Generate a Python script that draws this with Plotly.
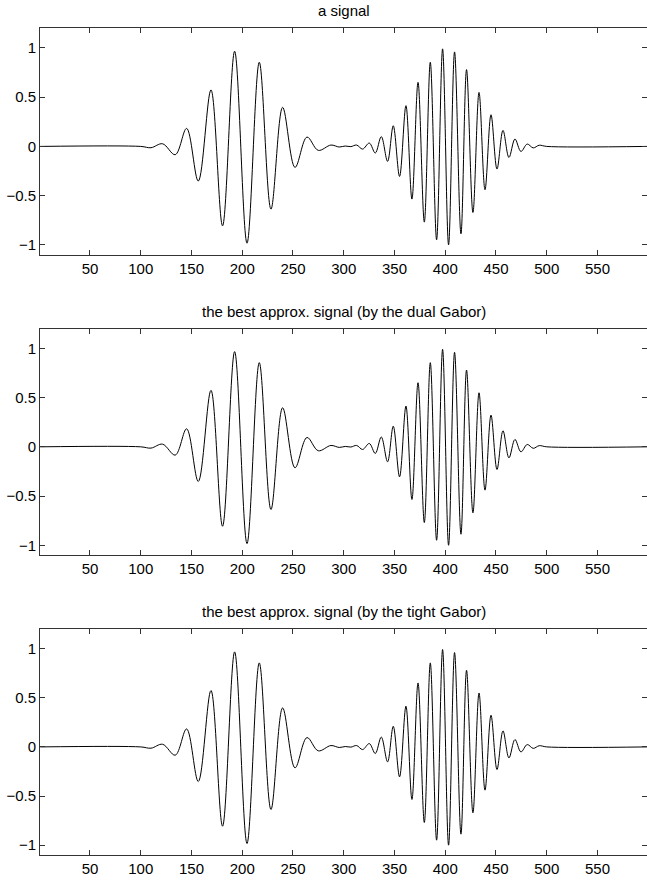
import plotly.graph_objects as go

# Extrema of the signal (sample index, amplitude)
sample_x = [1, 100, 110.1, 121.5, 134.0, 145.2, 156.7, 169.2, 180.6, 192.5, 204.7,
            216.8, 228.3, 239.8, 252.0, 263.8, 274.9, 287.4, 295.6, 301.5, 307.0,
            312.7, 318.6, 325.2, 331.1, 337.0, 343.2, 348.8, 355.0, 361.3, 367.2,
            373.2, 379.4, 385.3, 391.5, 397.4, 403.3, 409.2, 415.5, 421.0, 427.3,
            433.3, 439.2, 445.1, 451.0, 456.9, 462.8, 468.7, 474.6, 480.8, 486.7,
            492.6, 500, 599]
signal_y = [0, 0, -0.013, 0.027, -0.084, 0.183, -0.352, 0.574, -0.807, 0.967, -0.983,
            0.855, -0.637, 0.397, -0.213, 0.095, -0.04, 0.014, -0.006, 0.004, -0.002,
            0.014, -0.027, 0.034, -0.067, 0.10, -0.152, 0.21, -0.305, 0.414, -0.535,
            0.651, -0.769, 0.855, -0.949, 0.991, -1.0, 0.96, -0.888, 0.78, -0.671,
            0.549, -0.44, 0.322, -0.23, 0.163, -0.112, 0.075, -0.051, 0.024, -0.015,
            0.012, 0, 0]
# the two approximations are visually identical to the signal
dual_y = list(signal_y)
tight_y = list(signal_y)

titles = ["a signal",
          "the best approx. signal (by the dual Gabor)",
          "the best approx. signal (by the tight Gabor)"]
x_ticks = [50, 100, 150, 200, 250, 300, 350, 400, 450, 500, 550]
y_ticks = [-1, -0.5, 0, 0.5, 1]

W, H = 647, 882
mt, mb = 28, 27
plot_h = H - mt - mb
panel_h = 226.4
panel_tops = [28.3, 328.7, 629.0]

FONT = "Liberation Sans, Arial, Helvetica, sans-serif"
fig = go.Figure()
series = [signal_y, dual_y, tight_y]
annotations = []
layout = {}
for i, ys in enumerate(series):
    n = "" if i == 0 else str(i + 1)
    fig.add_trace(go.Scatter(x=sample_x, y=ys, mode="lines",
                             line=dict(color="black", width=1, shape="spline", smoothing=1),
                             xaxis="x" + n, yaxis="y" + n, showlegend=False,
                             hoverinfo="skip"))
    top_px = panel_tops[i]
    bot_px = top_px + panel_h
    d0 = (H - mb - bot_px) / plot_h
    d1 = (H - mb - top_px) / plot_h
    common = dict(showline=True, linecolor="#333333", linewidth=1, mirror="ticks",
                  ticks="inside", ticklen=5, tickcolor="#333333", tickwidth=1,
                  showgrid=False, zeroline=False,
                  tickfont=dict(family=FONT, size=15, color="black"))
    layout["xaxis" + n] = dict(common, domain=[0, 1], range=[0.75, 598.8],
                               tickvals=x_ticks, anchor="y" + n)
    layout["yaxis" + n] = dict(common, domain=[max(d0, 0), min(d1, 1)],
                               range=[-1.1, 1.2], tickvals=y_ticks,
                               anchor="x" + n)
    annotations.append(dict(text=titles[i], xref="paper", yref="paper",
                            x=0.5, y=min(d1, 1), xanchor="center", yanchor="bottom",
                            yshift=7, showarrow=False,
                            font=dict(family=FONT, size=15, color="black")))

fig.update_layout(width=W, height=H,
                  margin=dict(l=40, r=0, t=mt, b=mb, autoexpand=False),
                  paper_bgcolor="white", plot_bgcolor="white",
                  annotations=annotations, **layout)
fig.write_html("out.html",
               config={"displayModeBar": False},
               post_script="document.body.style.margin='0';"
                           "document.body.style.overflow='hidden';")
